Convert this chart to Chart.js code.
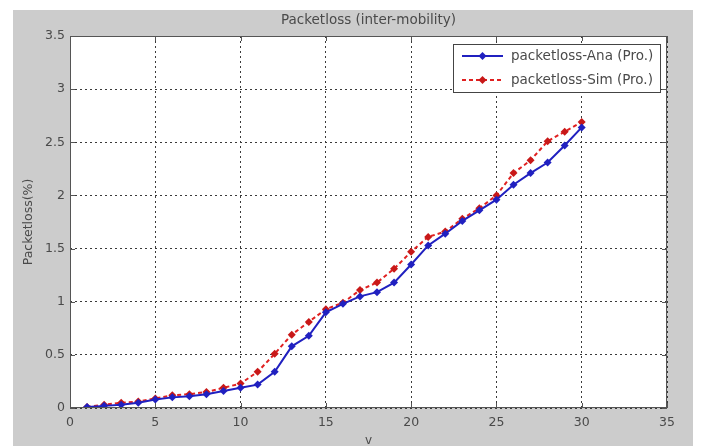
<!DOCTYPE html>
<html>
<head>
<meta charset="utf-8">
<script src="https://cdn.jsdelivr.net/npm/chart.js@4.4.1/dist/chart.umd.min.js"></script>
<style>
  html, body { margin: 0; padding: 0; background: #ffffff; }
  #wrap { position: relative; width: 711px; height: 446px; }
</style>
</head>
<body>
<div id="wrap"><canvas id="c" width="711" height="446"></canvas></div>
<script>
// ---- data ----
const xValues = [1,2,3,4,5,6,7,8,9,10,11,12,13,14,15,16,17,18,19,20,21,22,23,24,25,26,27,28,29,30];
const anaValues = [0.01,0.02,0.03,0.05,0.08,0.10,0.11,0.13,0.16,0.19,0.22,0.34,0.58,0.68,0.90,0.98,1.05,1.09,1.18,1.35,1.53,1.64,1.76,1.86,1.96,2.10,2.21,2.31,2.47,2.64];
const simValues = [0.01,0.03,0.05,0.06,0.09,0.12,0.13,0.15,0.19,0.23,0.34,0.51,0.69,0.81,0.93,0.99,1.11,1.18,1.31,1.47,1.61,1.66,1.78,1.88,2.00,2.21,2.33,2.51,2.60,2.69];
const seriesNames = ['packetloss-Ana (Pro.)', 'packetloss-Sim (Pro.)'];
const xTickLabels = ['0','5','10','15','20','25','30','35'];
const yTickLabels = ['0','0.5','1','1.5','2','2.5','3','3.5'];
const chartTitle = 'Packetloss (inter-mobility)';
const xTitle = 'v';
const yTitle = 'Packetloss(%)';

const blue = '#2020c0';
const red = '#e02020';
const FONT = '"DejaVu Sans", Verdana, sans-serif';
const TEXT = '#4a4a4a';

const bgPlugin = {
  id: 'bg',
  beforeDraw(chart) {
    const ctx = chart.ctx, a = chart.chartArea;
    ctx.save();
    ctx.fillStyle = '#ffffff';
    ctx.fillRect(0, 0, chart.width, chart.height);
    ctx.fillStyle = '#cccccc';
    ctx.fillRect(13, 10, 680, 436);
    ctx.fillStyle = '#ffffff';
    ctx.fillRect(a.left, a.top, a.right - a.left, a.bottom - a.top);
    ctx.restore();
  },
  afterDatasetsDraw(chart) {
    const ctx = chart.ctx, a = chart.chartArea;
    ctx.save();
    ctx.strokeStyle = '#555555';
    ctx.lineWidth = 1;
    ctx.strokeRect(a.left + 0.5, a.top + 0.5, a.right - a.left - 1, a.bottom - a.top - 1);
    const xs = chart.scales.x, ys = chart.scales.y;
    ctx.beginPath();
    xs.ticks.forEach(t => {
      const px = Math.round(xs.getPixelForValue(t.value)) + 0.5;
      ctx.moveTo(px, a.bottom); ctx.lineTo(px, a.bottom - 5);
      ctx.moveTo(px, a.top); ctx.lineTo(px, a.top + 5);
    });
    ys.ticks.forEach(t => {
      const py = Math.round(ys.getPixelForValue(t.value)) + 0.5;
      ctx.moveTo(a.left, py); ctx.lineTo(a.left + 5, py);
      ctx.moveTo(a.right, py); ctx.lineTo(a.right - 5, py);
    });
    ctx.stroke();
    // title
    ctx.fillStyle = TEXT;
    ctx.font = '13.5px ' + FONT;
    ctx.textAlign = 'center';
    ctx.textBaseline = 'middle';
    ctx.fillText(chartTitle, (a.left + a.right) / 2, 20);
    // legend
    const lx = 453, ly = 44, lw = 207, lh = 48;
    ctx.fillStyle = '#ffffff';
    ctx.fillRect(lx, ly, lw, lh);
    ctx.strokeStyle = '#444444';
    ctx.strokeRect(lx + 0.5, ly + 0.5, lw, lh);
    const rows = [
      {name: seriesNames[0], color: blue, dash: [], y: 56},
      {name: seriesNames[1], color: red, dash: [4, 3], y: 80}
    ];
    rows.forEach(r => {
      ctx.strokeStyle = r.color;
      ctx.lineWidth = 2;
      ctx.setLineDash(r.dash);
      ctx.beginPath();
      ctx.moveTo(462, r.y); ctx.lineTo(503, r.y);
      ctx.stroke();
      ctx.setLineDash([]);
      ctx.fillStyle = r.color === red ? '#c81818' : r.color;
      ctx.beginPath();
      ctx.moveTo(482.5, r.y - 4); ctx.lineTo(486.5, r.y); ctx.lineTo(482.5, r.y + 4); ctx.lineTo(478.5, r.y);
      ctx.closePath(); ctx.fill();
      ctx.fillStyle = TEXT;
      ctx.font = '13.5px ' + FONT;
      ctx.textAlign = 'left';
      ctx.fillText(r.name, 511, r.y);
    });
    ctx.restore();
  }
};

new Chart(document.getElementById('c'), {
  type: 'line',
  data: {
    datasets: [
      {
        label: seriesNames[0],
        data: xValues.map((x, i) => ({x: x, y: anaValues[i]})),
        borderColor: blue, backgroundColor: blue,
        borderWidth: 2, pointStyle: 'rectRot', pointRadius: 4,
        pointBorderWidth: 0, tension: 0
      },
      {
        label: seriesNames[1],
        data: xValues.map((x, i) => ({x: x, y: simValues[i]})),
        borderColor: red, backgroundColor: '#c81818',
        borderWidth: 2, borderDash: [4, 3], pointStyle: 'rectRot', pointRadius: 4,
        pointBorderWidth: 0, tension: 0
      }
    ]
  },
  options: {
    responsive: false,
    animation: false,
    layout: { padding: { left: 0, right: 44, top: 36, bottom: 0 } },
    plugins: { legend: { display: false }, title: { display: false }, tooltip: { enabled: false } },
    scales: {
      x: {
        type: 'linear', min: 0, max: 35,
        afterFit(s) { s.height = 38; },
        ticks: {
          stepSize: 5, color: TEXT, font: { size: 12.5, family: FONT }, padding: 7,
          maxRotation: 0, autoSkip: false,
          callback: (v) => xTickLabels[Math.round(v / 5)]
        },
        grid: { color: '#3a3a3a', lineWidth: 1, drawTicks: false, tickLength: 0 },
        border: { display: false, dash: [2, 3] },
        title: { display: true, text: xTitle, color: TEXT, font: { size: 12, family: FONT }, padding: { top: 0, bottom: -2 } }
      },
      y: {
        type: 'linear', min: 0, max: 3.5,
        afterFit(s) { s.width = 70; },
        ticks: {
          stepSize: 0.5, color: TEXT, font: { size: 12.5, family: FONT }, padding: 5,
          callback: (v) => yTickLabels[Math.round(v / 0.5)]
        },
        grid: { color: '#3a3a3a', lineWidth: 1, drawTicks: false, tickLength: 0 },
        border: { display: false, dash: [2, 3] },
        title: { display: true, text: yTitle, color: TEXT, font: { size: 12.5, family: FONT }, padding: { top: 21, bottom: 0 } }
      }
    }
  },
  plugins: [bgPlugin]
});
</script>
</body>
</html>
